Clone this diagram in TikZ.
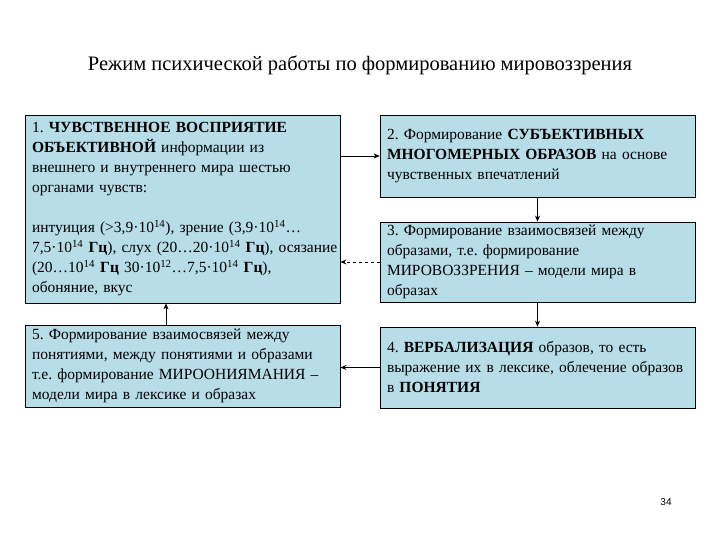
\documentclass[tikz,border=0pt]{standalone}
\usepackage{fontspec}
\setmainfont{Liberation Serif}
\newfontfamily\numfont{Liberation Sans}
\usepackage{tikz}
\usetikzlibrary{arrows.meta, positioning}
\definecolor{boxblue}{RGB}{183,221,232}

\tikzset{
  stage/.style={draw=black, fill=boxblue, line width=0.8pt, minimum width=315pt,
    text width=301pt, align=left, inner xsep=7pt, inner ysep=0pt,
    font=\fontsize{15.5}{20}\selectfont\frenchspacing},
  link/.style={line width=0.8pt, ->}
}

\begin{document}
\begin{tikzpicture}[x=1pt, y=1pt, >={Stealth[length=6pt,width=5pt]}]
    \useasboundingbox (0,0) rectangle (720,540);

    % Title
    \node[font=\fontsize{20.5}{24}\selectfont] (title) at (360,475)
      {Режим психической работы по формированию мировоззрения};

    % Stages
    \node[stage, minimum height=188pt] (b1) at (182.5,331)
      {1. \textbf{ЧУВСТВЕННОЕ ВОСПРИЯТИЕ}\\
       \textbf{ОБЪЕКТИВНОЙ} информации из\\
       внешнего и внутреннего мира шестью\\
       органами чувств:\\[20pt]
       интуиция (>3,9·10\textsuperscript{14}), зрение (3,9·10\textsuperscript{14}…\\
       \mbox{7,5·10\textsuperscript{14} \textbf{Гц}), слух (20…20·10\textsuperscript{14} \textbf{Гц}), осязание}\\
       (20…10\textsuperscript{14} \textbf{Гц} 30·10\textsuperscript{12}…7,5·10\textsuperscript{14} \textbf{Гц}),\\
       обоняние, вкус};
    \node[stage, minimum height=82pt] (b2) at (537.5,384)
      {2. Формирование \textbf{СУБЪЕКТИВНЫХ}\\
       \textbf{МНОГОМЕРНЫХ ОБРАЗОВ} на основе\\
       чувственных впечатлений};
    \node[stage, minimum height=80pt] (b3) at (537.5,278)
      {3. Формирование взаимосвязей между\\
       образами, т.е. формирование\\
       МИРОВОЗЗРЕНИЯ – модели мира в\\
       образах};
    \node[stage, minimum height=81pt] (b4) at (537.5,172.5)
      {4. \textbf{ВЕРБАЛИЗАЦИЯ} образов, то есть\\
       выражение их в лексике, облечение образов\\
       в \textbf{ПОНЯТИЯ}};
    \node[stage, minimum height=82pt] (b5) at (182.5,174)
      {5. Формирование взаимосвязей между\\
       понятиями, между понятиями и образами\\
       т.е. формирование МИРООНИЯМАНИЯ –\\
       модели мира в лексике и образах};

    % Connectors
    \draw[link] (b1.east |- b2.west) -- (b2.west);
    \draw[link] (b2.south) -- (b3.north);
    \draw[link] (b3.south) -- (b4.north);
    \draw[link, dashed] (b3.west) -- (b3.west -| b1.east);
    \draw[link] (b4.west) -- (b4.west -| b5.east);
    \draw[link] ([xshift=-16.5pt]b5.north) -- ([xshift=-16.5pt]b1.south);

    % Page number
    \node[font=\numfont\fontsize{10}{12}\selectfont] (page) at (666,38) {34};
\end{tikzpicture}
\end{document}
